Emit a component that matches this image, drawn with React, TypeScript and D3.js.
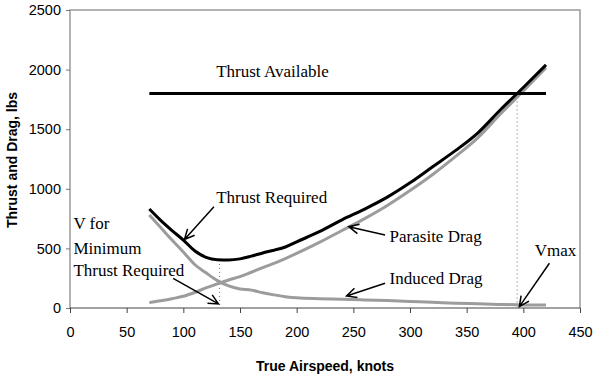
import React, { useRef, useEffect } from 'react';
import * as d3 from 'd3';

// true airspeed, knots
const speeds = [70, 80, 90, 100, 110, 120, 130, 140, 150, 160, 170, 180, 190, 200, 220, 240, 260, 280, 300, 320, 340, 360, 380, 400, 420];
// lbs
const thrustRequired = [830, 735, 650, 570, 480, 425, 405, 403, 412, 435, 462, 485, 512, 555, 640, 740, 830, 930, 1050, 1185, 1320, 1470, 1665, 1850, 2040];
const parasiteDrag = [45, 60, 78, 98, 130, 168, 203, 235, 263, 300, 338, 375, 415, 458, 550, 650, 750, 860, 985, 1120, 1270, 1430, 1630, 1820, 2015];
const inducedDrag = [780, 675, 570, 470, 365, 295, 230, 185, 160, 150, 128, 110, 95, 85, 78, 74, 68, 62, 55, 48, 40, 35, 30, 26, 25];
const thrustAvailable = 1800;
const availableRange = [70, 420];

const xTicks = [0, 50, 100, 150, 200, 250, 300, 350, 400, 450];
const yTicks = [0, 500, 1000, 1500, 2000, 2500];

// speed for minimum thrust required, and top speed
const vMinThrust = 132;
const vMax = 394.5;

// labels placed in data units
const labels = [
  { text: 'Thrust Available', v: 129, t: 1940 },
  { text: 'Thrust Required', v: 129, t: 880 },
  { text: 'V for', v: 3, t: 663 },
  { text: 'Minimum', v: 3, t: 455 },
  { text: 'Thrust Required', v: 3, t: 268 },
  { text: 'Parasite Drag', v: 282, t: 554 },
  { text: 'Induced Drag', v: 282, t: 199 },
  { text: 'Vmax', v: 410, t: 436 },
];

const arrows = [
  { from: [127, 850], to: [101, 575] },
  { from: [91, 249], to: [131, 34] },
  { from: [278, 612], to: [246, 682] },
  { from: [278, 207], to: [244, 101] },
  { from: [423, 375], to: [396.5, 12] },
];

const sans = "'Liberation Sans', Arial, sans-serif";
const serif = "'Times New Roman', 'Liberation Serif', Times, serif";

export default function App() {
  const xAxisRef = useRef<SVGGElement>(null);
  const yAxisRef = useRef<SVGGElement>(null);

  const x = d3.scaleLinear().domain([0, 450]).range([70, 580]);
  const y = d3.scaleLinear().domain([0, 2500]).range([308, 10]);

  useEffect(() => {
    const xAxis = d3.axisBottom(x).tickValues(xTicks).tickSize(5).tickSizeOuter(0).tickPadding(14).tickFormat(d3.format('d'));
    const gx = d3.select(xAxisRef.current);
    gx.call(xAxis as any);
    gx.select('.domain').remove();
    gx.selectAll('line').attr('stroke', '#444');
    gx.selectAll('text').attr('font-family', sans).attr('font-size', 14.5).attr('fill', '#000');

    const yAxis = d3.axisLeft(y).tickValues(yTicks).tickSize(4).tickSizeOuter(0).tickPadding(5).tickFormat(d3.format('d'));
    const gy = d3.select(yAxisRef.current);
    gy.call(yAxis as any);
    gy.select('.domain').remove();
    gy.selectAll('line').attr('stroke', '#777');
    gy.selectAll('text').attr('font-family', sans).attr('font-size', 14.5).attr('fill', '#000');
  }, []);

  const line = (vals: number[]) =>
    d3.line<number>()
      .x((_, i) => x(speeds[i]))
      .y(d => y(d))
      .curve(d3.curveMonotoneX)(vals) as string;

  const arrowHead = (a: { from: number[]; to: number[] }) => {
    const x0 = x(a.from[0]), y0 = y(a.from[1]);
    const x1 = x(a.to[0]), y1 = y(a.to[1]);
    const ang = Math.atan2(y0 - y1, x0 - x1);
    const len = 11, spread = 0.45;
    const p1 = [x1 + len * Math.cos(ang + spread), y1 + len * Math.sin(ang + spread)];
    const p2 = [x1 + len * Math.cos(ang - spread), y1 + len * Math.sin(ang - spread)];
    return `M${x0},${y0}L${x1},${y1}M${p1[0]},${p1[1]}L${x1},${y1}L${p2[0]},${p2[1]}`;
  };

  return (
    <svg width={600} height={386} style={{ position: 'absolute', left: 0, top: 0, background: '#fff' }}>
      {/* plot frame */}
      <path d={`M${x(0)},${y(0)}V${y(2500)}H${x(450)}V${y(0)}`} fill="none" stroke="#999" strokeWidth={1.5} />
      <line x1={x(0)} x2={x(450)} y1={y(0)} y2={y(0)} stroke="#444" strokeWidth={1.2} />
      <g ref={xAxisRef} transform={`translate(0,${y(0)})`} />
      <g ref={yAxisRef} transform={`translate(${x(0)},0)`} />

      {/* dotted guides */}
      <line x1={x(vMinThrust)} x2={x(vMinThrust)} y1={y(370)} y2={y(0)} stroke="#666" strokeWidth={1} strokeDasharray="1,3" />
      <line x1={x(vMax)} x2={x(vMax)} y1={y(thrustAvailable)} y2={y(0)} stroke="#666" strokeWidth={1} strokeDasharray="1,3" />

      {/* curves */}
      <path d={line(parasiteDrag)} fill="none" stroke="#9c9c9c" strokeWidth={3} strokeLinejoin="round" />
      <path d={line(inducedDrag)} fill="none" stroke="#9c9c9c" strokeWidth={3} strokeLinejoin="round" />
      <path d={line(thrustRequired)} fill="none" stroke="#000" strokeWidth={3} strokeLinejoin="round" />
      <line x1={x(availableRange[0])} x2={x(availableRange[1])} y1={y(thrustAvailable)} y2={y(thrustAvailable)} stroke="#000" strokeWidth={3} />

      {/* annotations */}
      {labels.map((l, i) => (
        <text key={i} x={x(l.v)} y={y(l.t)} fontFamily={serif} fontSize={17} fill="#000">{l.text}</text>
      ))}
      {arrows.map((a, i) => (
        <path key={i} d={arrowHead(a)} fill="none" stroke="#000" strokeWidth={1.5} />
      ))}

      {/* axis titles */}
      <text x={(x(0) + x(450)) / 2} y={371} textAnchor="middle" fontFamily={sans} fontWeight="bold" fontSize={14}>
        True Airspeed, knots
      </text>
      <text transform={`translate(17,${(y(0) + y(2500)) / 2 + 1}) rotate(-90)`} textAnchor="middle" fontFamily={sans} fontWeight="bold" fontSize={14}>
        Thrust and Drag, lbs
      </text>
    </svg>
  );
}
